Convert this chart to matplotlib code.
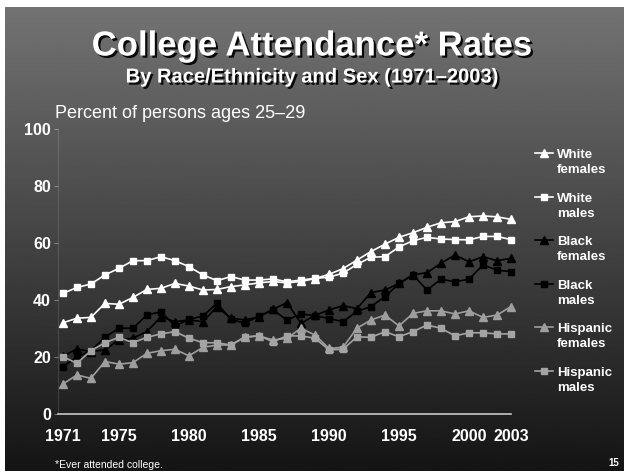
import numpy as np
import matplotlib.pyplot as plt
import matplotlib.patheffects as pe
from matplotlib.legend_handler import HandlerLine2D

years = list(range(1971, 2004))

white_females = [32.0, 33.6, 33.9, 38.8, 38.5, 40.9, 43.7, 44.1, 45.8, 44.9, 43.5,
                 43.7, 44.7, 45.3, 46.0, 46.5, 46.0, 46.5, 47.5, 49.0, 51.0, 54.0,
                 57.0, 59.6, 62.0, 63.6, 65.5, 67.1, 67.5, 69.2, 69.5, 69.2, 68.3]
white_males = [42.3, 44.4, 45.6, 48.8, 51.1, 53.8, 53.8, 55.2, 53.8, 51.7, 48.8,
               46.8, 48.2, 47.0, 47.0, 47.4, 46.4, 47.0, 47.6, 48.0, 49.4, 52.5,
               55.0, 55.2, 58.6, 60.8, 62.0, 61.4, 61.2, 61.1, 62.3, 62.3, 61.2]
black_females = [20.3, 22.8, 21.9, 22.5, 26.0, 26.6, 28.9, 34.1, 32.4, 33.0, 32.4,
                 37.6, 33.6, 33.0, 34.1, 36.7, 39.1, 31.8, 34.6, 36.5, 38.0, 37.0,
                 42.6, 43.5, 45.8, 48.8, 49.6, 52.9, 55.8, 53.4, 55.2, 53.8, 54.6]
black_males = [16.6, 20.0, 22.2, 26.9, 30.1, 30.1, 34.7, 35.9, 30.9, 33.2, 34.4,
               38.8, 33.2, 31.8, 34.4, 36.5, 33.0, 35.1, 34.5, 33.5, 32.4, 36.0,
               37.7, 41.2, 45.8, 48.8, 43.5, 47.3, 46.4, 47.3, 52.3, 50.5, 49.9]
hispanic_females = [10.5, 13.7, 12.5, 18.4, 17.5, 18.0, 21.3, 22.2, 22.7, 20.4, 23.4,
                    24.2, 24.2, 26.9, 27.4, 26.0, 26.5, 30.1, 27.7, 23.0, 23.4, 30.1,
                    33.0, 34.7, 30.9, 35.3, 36.2, 36.2, 35.1, 36.2, 33.9, 34.7, 37.7]
hispanic_males = [20.1, 17.8, 22.2, 25.0, 26.9, 25.0, 26.9, 28.1, 28.9, 26.6, 25.0,
                  25.0, 24.2, 27.1, 27.4, 25.4, 27.4, 27.4, 26.6, 22.5, 22.7, 27.1,
                  26.9, 28.9, 27.1, 28.9, 31.2, 30.1, 27.4, 28.5, 28.5, 28.1, 28.1]

labels = ['White\nfemales', 'White\nmales', 'Black\nfemales', 'Black\nmales',
          'Hispanic\nfemales', 'Hispanic\nmales']
xticks = [1971, 1975, 1980, 1985, 1990, 1995, 2000, 2003]


class FirstLineHandler(HandlerLine2D):
    # put the legend key next to the first line of a two-line label
    def create_artists(self, legend, orig_handle, xdescent, ydescent,
                       width, height, fontsize, trans):
        arts = super().create_artists(legend, orig_handle, xdescent, ydescent,
                                      width, height, fontsize, trans)
        for a in arts:
            a.set_ydata(np.asarray(a.get_ydata()) + 0.7 * fontsize)
        return arts


plt.rcParams['font.family'] = ['Liberation Sans', 'DejaVu Sans']

fig = plt.figure(figsize=(6.24, 4.71), dpi=100)
fig.patch.set_facecolor('white')

# slide background, grey to almost black
bg = fig.add_axes([5 / 624, 0, 1 - 5 / 624, 1 - 7 / 471])
grad = np.linspace(0.45, 0.08, 256).reshape(-1, 1)
bg.imshow(grad, cmap='gray', vmin=0, vmax=1, aspect='auto',
          extent=[0, 1, 0, 1], origin='upper')
bg.axis('off')

ax = fig.add_axes([58 / 624, 57 / 471, 460 / 624, 285 / 471])
ax.patch.set_alpha(0)

series = [
    (white_females, 'white', '^', 5.2),
    (white_males, 'white', 's', 4.5),
    (black_females, 'black', '^', 5.2),
    (black_males, 'black', 's', 4.5),
    (hispanic_females, '#9e9e9e', '^', 5.2),
    (hispanic_males, '#a4a4a4', 's', 4.5),
]
handles = []
for (vals, col, mk, ms), lab in zip(series, labels):
    h, = ax.plot(years, vals, color=col, marker=mk, markersize=ms, lw=1.2,
                 label=lab, clip_on=False)
    handles.append(h)

ax.set_xlim(1970.65, 2003.5)
ax.set_ylim(0, 100)
ax.set_xticks(xticks)
ax.set_yticks([0, 20, 40, 60, 80, 100])

for s in ['top', 'right']:
    ax.spines[s].set_visible(False)
ax.spines['left'].set_color((1, 1, 1, 0.12))
ax.spines['bottom'].set_color('#c8c8c8')
ax.spines['bottom'].set_linewidth(1.2)
ax.spines['bottom'].set_bounds(1970.65, 2003)

ax.tick_params(axis='x', length=0, pad=11, labelsize=11.5, labelcolor='white')
ax.tick_params(axis='y', length=3, width=0.8, color=(1, 1, 1, 0.35), pad=2,
               labelsize=11.5, labelcolor='white')
for t in ax.get_xticklabels() + ax.get_yticklabels():
    t.set_fontweight('bold')

leg = ax.legend(handles=handles, labels=labels, loc='upper left',
                bbox_to_anchor=(535 / 624, 322 / 471), bbox_transform=fig.transFigure,
                frameon=False, borderpad=0, borderaxespad=0, handlelength=1.4,
                handletextpad=0.25, labelspacing=1.22,
                prop={'size': 9.5, 'weight': 'bold'},
                handler_map={h: FirstLineHandler() for h in handles})
for t in leg.get_texts():
    t.set_color('white')
    t.set_linespacing(1.38)

shadow = [pe.SimplePatchShadow(offset=(1.6, -1.6), shadow_rgbFace='black', alpha=0.9),
          pe.Normal()]
fig.text(0.5, 1 - 46 / 471, 'College Attendance* Rates', ha='center', va='center',
         fontsize=25, fontweight='bold', color='white', path_effects=shadow)
fig.text(0.5, 1 - 77 / 471, 'By Race/Ethnicity and Sex (1971\u20132003)', ha='center',
         va='center', fontsize=14.5, fontweight='bold', color='white',
         path_effects=shadow)
fig.text(55 / 624, 1 - 113 / 471, 'Percent of persons ages 25\u201329', ha='left',
         va='center', fontsize=13, color='white')
fig.text(55 / 624, 1 - 465 / 471, '*Ever attended college.', ha='left', va='center',
         fontsize=7.5, color='white')
fig.text(614 / 624, 1 - 463 / 471, '15', ha='center', va='center', fontsize=7,
         fontweight='bold', color='white')

fig.savefig('out.png', dpi=100)
